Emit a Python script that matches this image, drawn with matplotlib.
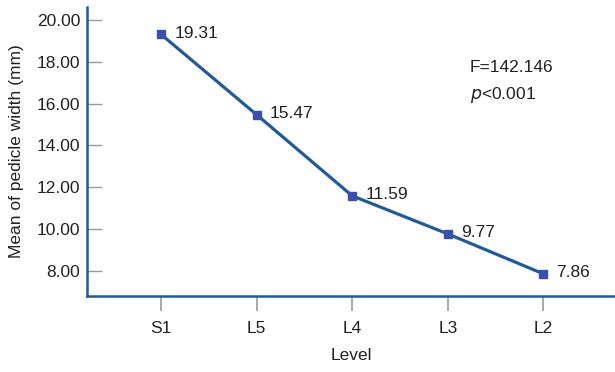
import matplotlib
matplotlib.use("Agg")
import matplotlib.pyplot as plt
from matplotlib import font_manager

levels = ["S1", "L5", "L4", "L3", "L2"]
means = [19.31, 15.47, 11.59, 9.77, 7.86]
yticks = [8, 10, 12, 14, 16, 18, 20]
stat_text = "F=142.146"

names = {f.name for f in font_manager.fontManager.ttflist}
fam = ["Liberation Sans Narrow", "DejaVu Sans"] if "Liberation Sans Narrow" in names else ["Liberation Sans", "DejaVu Sans"]
plt.rcParams["font.family"] = fam
fs = 12.5

fig = plt.figure(figsize=(6.15, 3.72), dpi=100)
ax = fig.add_axes([87/615, 76/372, 1 - 87/615, (296-7)/372])

x = list(range(len(levels)))
ax.plot(x, means, color="#1f5a9c", lw=2.3, marker="s", ms=6,
        markerfacecolor="#3a4fb0", markeredgecolor="#3a4fb0", zorder=3)
for xi, v in zip(x, means):
    ax.annotate(f"{v:.2f}", (xi, v), xytext=(9.5, 1), textcoords="offset points",
                fontsize=fs, color="#222222", va="center", ha="left")

ax.set_xlim(-0.775, 4.75)
ax.set_ylim(6.8, 20.62)
ax.set_xticks(x)
ax.set_xticklabels(levels)
ax.set_yticks(yticks)
ax.set_yticklabels([f"{t:.2f}" for t in yticks])
ax.tick_params(axis="y", direction="in", length=11, width=1, color="#999999",
               labelsize=fs, labelcolor="#222222", pad=5)
ax.tick_params(axis="x", direction="out", length=11, width=1.2, color="#999999",
               labelsize=fs, labelcolor="#222222", pad=7)
for s in ["top", "right"]:
    ax.spines[s].set_visible(False)
for s in ["left", "bottom"]:
    ax.spines[s].set_color("#1a5ea0")
    ax.spines[s].set_linewidth(1.8)

ax.set_xlabel("Level", fontsize=fs, color="#222222", labelpad=9)
ax.set_ylabel("Mean of pedicle width (mm)", fontsize=fs, color="#222222", labelpad=9)

ax.text(0.725, 0.792, stat_text, transform=ax.transAxes, fontsize=fs, color="#222222", va="center")
ax.text(0.725, 0.695, r"$p$<0.001", transform=ax.transAxes, fontsize=fs, color="#222222", va="center")

fig.savefig("out.png", dpi=100)
